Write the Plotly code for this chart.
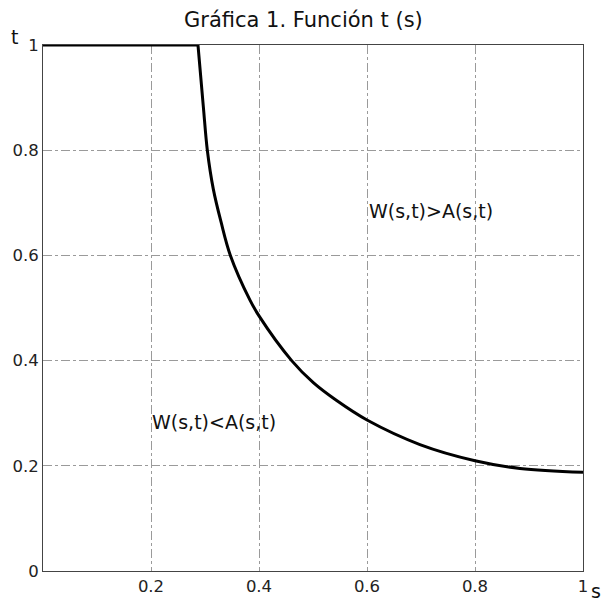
import plotly.graph_objects as go

# flat part
s_flat = [0.0, 0.287]
t_flat = [1.0, 1.0]
# decreasing part
s_curve = [0.287, 0.2969, 0.3043, 0.3154, 0.3296, 0.347, 0.3833, 0.40, 0.4605,
           0.5006, 0.5438, 0.60, 0.698, 0.80, 0.8833, 1.00]
t_curve = [1.0, 0.883, 0.800, 0.726, 0.664, 0.600, 0.515, 0.485, 0.400,
           0.358, 0.324, 0.287, 0.2404, 0.2097, 0.195, 0.1876]

x_ticks = [0.2, 0.4, 0.6, 0.8, 1.0]
x_labels = ["0.2", "0.4", "0.6", "0.8", "1"]
y_ticks = [0, 0.2, 0.4, 0.6, 0.8, 1.0]
y_labels = ["0", "0.2", "0.4", "0.6", "0.8", "1"]

FONT = "DejaVu Sans"
fig = go.Figure()
fig.add_trace(go.Scatter(x=s_flat, y=t_flat, mode="lines",
                         line=dict(color="black", width=3), showlegend=False))
fig.add_trace(go.Scatter(x=s_curve, y=t_curve, mode="lines",
                         line=dict(color="black", width=3, shape="spline", smoothing=1.0),
                         showlegend=False))

axis_common = dict(showgrid=True, gridcolor="#9a9a9a", griddash="dashdot", gridwidth=1,
                   showline=True, linecolor="#444", linewidth=1, mirror=True,
                   zeroline=False, ticks="", automargin=False,
                   tickfont=dict(family=FONT, size=16.5, color="#222"))
fig.update_xaxes(range=[0, 1], tickvals=x_ticks, ticktext=x_labels, **axis_common)
fig.update_yaxes(range=[0, 1], tickvals=y_ticks, ticktext=y_labels, **axis_common)

fig.update_layout(
    width=602, height=602,
    margin=dict(l=43, r=19, t=45, b=31),
    plot_bgcolor="white", paper_bgcolor="white",
    font=dict(family=FONT, color="#111"),
    annotations=[
        dict(text="Gráfica 1. Función t (s)", xref="paper", yref="paper",
             x=(303.5 - 43) / 540, y=(571 - 20) / 526, showarrow=False,
             xanchor="center", yanchor="middle", font=dict(size=21, family=FONT)),
        dict(text="t", xref="paper", yref="paper", x=(14 - 43) / 540, y=(571 - 37) / 526,
             showarrow=False, xanchor="center", yanchor="middle", font=dict(size=19, family=FONT)),
        dict(text="s", xref="paper", yref="paper", x=(596 - 43) / 540, y=(571 - 591) / 526,
             showarrow=False, xanchor="center", yanchor="middle", font=dict(size=19, family=FONT)),
        dict(text="W(s,t)>A(s,t)", x=0.6, y=0.684, showarrow=False, xanchor="left",
             yanchor="middle", font=dict(size=19, family=FONT)),
        dict(text="W(s,t)<A(s,t)", x=0.198, y=0.283, showarrow=False, xanchor="left",
             yanchor="middle", font=dict(size=19, family=FONT)),
    ],
)
fig.write_html("out.html")
